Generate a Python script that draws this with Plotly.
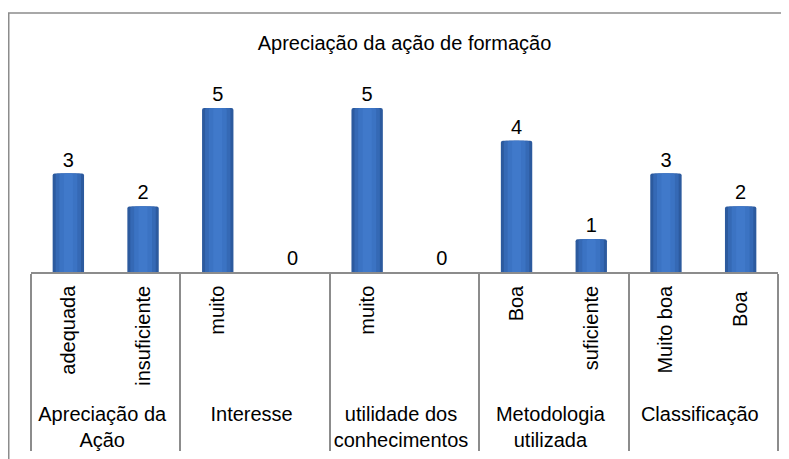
import plotly.graph_objects as go

title = "Apreciação da ação de formação"
groups = ["Apreciação da<br>Ação", "Apreciação da<br>Ação",
          "Interesse", "Interesse",
          "utilidade dos<br>conhecimentos", "utilidade dos<br>conhecimentos",
          "Metodologia<br>utilizada", "Metodologia<br>utilizada",
          "Classificação", "Classificação"]
# blank slots (0 responses) carry no visible label in the original;
# trailing space keeps the second "Boa" a distinct category so order is preserved
answers = ["adequada", "insuficiente", "muito", " ", "muito", " ",
           "Boa", "suficiente", "Muito boa", "Boa "]
values = [3, 2, 5, 0, 5, 0, 4, 1, 3, 2]

FONT = "Liberation Sans, Arial, sans-serif"

# page body adds an 8px offset; layout numbers compensate for it
L, R_END, BASE, TOP = 23, 770, 264, 52
PW, PH = R_END - L, BASE - TOP

fig = go.Figure()
layers = [
    (0.42, "#2C5A9E", True),
    (0.34, "#3569B5", False),
    (0.24, "#3B73C3", False),
    (0.12, "#4079CA", False),
]
for w, col, show_text in layers:
    fig.add_trace(go.Bar(
        x=[groups, answers], y=values, width=w,
        marker=dict(color=col, line=dict(width=0), cornerradius=2),
        text=[str(v) for v in values] if show_text else None,
        textposition="outside" if show_text else "none",
        textfont=dict(family=FONT, size=20, color="#000000"),
        cliponaxis=False, hoverinfo="skip", showlegend=False,
    ))

fig.update_layout(
    width=789, height=459,
    margin=dict(l=L, r=789 - R_END, t=TOP, b=459 - BASE, autoexpand=False),
    paper_bgcolor="white", plot_bgcolor="white",
    barmode="overlay",
    title=dict(text=title, x=0.5, xref="paper", y=1 - 35 / 459, yanchor="middle",
               font=dict(family=FONT, size=20, color="#000000")),
    font=dict(family=FONT, size=20, color="#000000"),
    xaxis=dict(type="multicategory", showline=True, linecolor="#8C8C8C", linewidth=1.5,
               showdividers=True, dividercolor="#8C8C8C", dividerwidth=1.5,
               tickangle=-90, ticks="", ticklabelstandoff=4,
               showgrid=False, zeroline=False, automargin=False,
               tickfont=dict(family=FONT, size=20, color="#000000")),
    yaxis=dict(visible=False, range=[0, PH * 5 / 164], showgrid=False, zeroline=False,
               automargin=False),
    shapes=[dict(type="rect", xref="paper", yref="paper",
                 x0=(0.75 - L) / PW, x1=1.1, y0=-2, y1=(BASE - 5) / PH,
                 line=dict(color="#8C8C8C", width=1.5), fillcolor="rgba(0,0,0,0)",
                 layer="below")],
)

fig.write_html("out.html")
